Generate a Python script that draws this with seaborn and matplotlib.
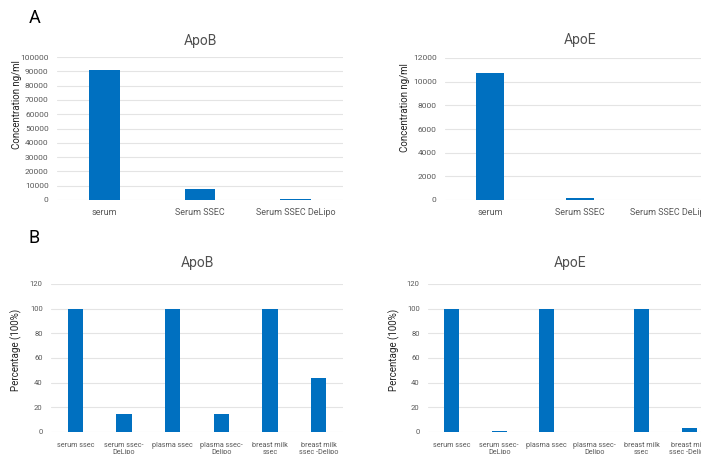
import numpy as np
import pandas as pd
import matplotlib
matplotlib.use("Agg")
import matplotlib.pyplot as plt
import seaborn as sns

# ---------------- data ----------------
conc_groups = ["serum", "Serum SSEC", "Serum SSEC DeLipo"]
apob_conc = [91000, 7800, 1000]
apoe_conc = [10750, 150, 0]

pct_groups = ["serum ssec", "serum ssec-\nDeLipo", "plasma ssec",
              "plasma ssec-\nDelipo", "breast milk\nssec", "breast milk\nssec -Delipo"]
apob_pct = [100, 15, 100, 15, 100, 44]
apoe_pct = [100, 0.8, 100, 0, 100, 3]

sns.set_theme(style="white")
plt.rcParams["font.family"] = ["Roboto", "DejaVu Sans"]

BLUE = "#0070c0"
GRID = "#e4e4e4"
TICK = "#595959"

W, H = 701, 454
fig = plt.figure(figsize=(W / 100, H / 100), dpi=100)


def px_axes(x0, x1, ytop, ybot):
    return fig.add_axes([x0 / W, (H - ybot) / H, (x1 - x0) / W, (ybot - ytop) / H])


def draw(ax, groups, vals, ymax, step, title, ylabel, width, fs, xfs, tpad, lab_xy):
    df = pd.DataFrame({"group": groups, "value": vals})
    sns.barplot(data=df, x="group", y="value", color=BLUE, width=width,
                saturation=1, ax=ax, edgecolor="none")
    ax.set_ylim(0, ymax)
    ax.set_yticks(np.arange(0, ymax + 1, step))
    ax.yaxis.grid(True, color=GRID, lw=0.8)
    ax.set_axisbelow(True)
    for s in ax.spines.values():
        s.set_visible(False)
    ax.tick_params(axis="y", length=0, colors=TICK, labelsize=fs, pad=6)
    ax.tick_params(axis="x", length=0, colors=TICK, labelsize=xfs, pad=6)
    ax.set_xlabel("")
    ax.set_ylabel(ylabel, fontsize=7, color="#222222")
    ax.yaxis.set_label_coords(*lab_xy)
    ax.set_title(title, fontsize=10, color="#505050", pad=tpad)


ax1 = px_axes(57, 343, 57, 200)
draw(ax1, conc_groups, apob_conc, 100000, 10000, "ApoB", "Concentration ng/ml",
     0.32, 6, 6.5, 9, (-0.122, 0.664))

ax2 = px_axes(445, 715, 58, 200)
draw(ax2, conc_groups, apoe_conc, 12000, 2000, "ApoE", "Concentration ng/ml",
     0.31, 6, 6.5, 10, (-0.130, 0.648))

ax3 = px_axes(51, 343, 284, 432)
draw(ax3, pct_groups, apob_pct, 120, 20, "ApoB", "Percentage (100%)",
     0.31, 5.5, 5.2, 12, (-0.100, 0.554))

ax4 = px_axes(428, 713, 284, 432)
draw(ax4, pct_groups, apoe_pct, 120, 20, "ApoE", "Percentage (100%)",
     0.31, 5.5, 5.2, 12, (-0.099, 0.554))

for ax in (ax3, ax4):
    for lab in ax.get_xticklabels():
        lab.set_linespacing(1.05)
    ax.tick_params(axis="x", pad=7)

fig.text(35 / W, 1 - 18 / H, "A", fontsize=13, ha="center", va="center", color="black")
fig.text(34 / W, 1 - 238 / H, "B", fontsize=13, ha="center", va="center", color="black")

fig.savefig("out.png", dpi=100, facecolor="white")
